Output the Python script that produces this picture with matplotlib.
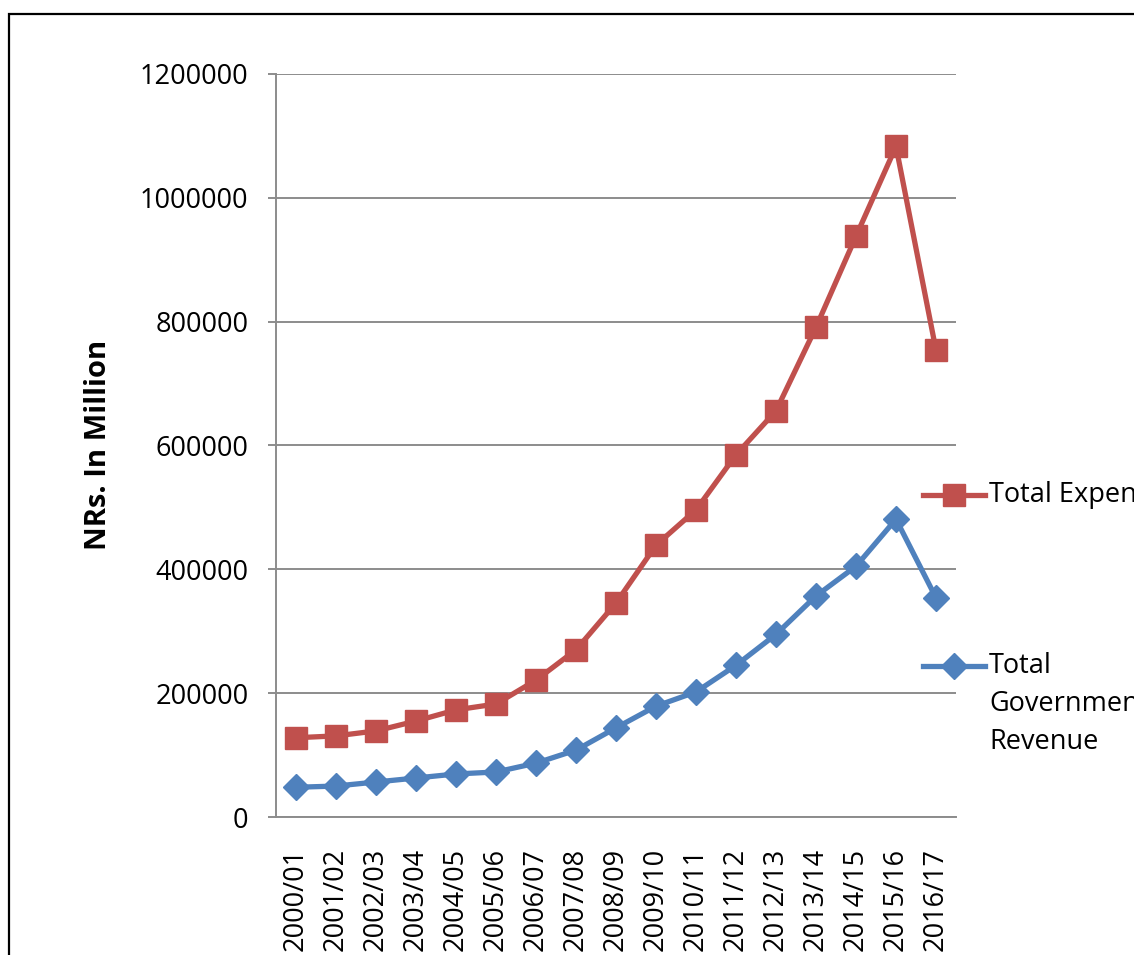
import matplotlib
matplotlib.use("Agg")
import matplotlib.pyplot as plt
from matplotlib.lines import Line2D
from matplotlib.patches import Rectangle

# Fiscal years and series (NRs. in million)
years = ["2000/01", "2001/02", "2002/03", "2003/04", "2004/05", "2005/06",
         "2006/07", "2007/08", "2008/09", "2009/10", "2010/11", "2011/12",
         "2012/13", "2013/14", "2014/15", "2015/16", "2016/17"]
expenditure = [128000, 131000, 139000, 155000, 173000, 182500, 221000,
               270000, 345600, 439000, 496000, 585000, 656000, 791000,
               938000, 1083000, 754000]
revenue = [48000, 50000, 56500, 63000, 69500, 72700, 87000, 108000,
           144000, 179000, 202000, 245000, 295000, 357000, 405000,
           481000, 354000]
y_ticks = [0, 200000, 400000, 600000, 800000, 1000000, 1200000]

RED = "#C0504D"
BLUE = "#4F81BD"
GRID = "#8C8C8C"
FS = 19.5

plt.rcParams["font.family"] = ["Open Sans", "DejaVu Sans"]

W, H = 1134, 955
fig = plt.figure(figsize=(W / 100, H / 100), dpi=100)
ax = fig.add_axes([276 / W, 1 - 817 / H, 680 / W, 743 / H])

x = list(range(len(years)))
ax.plot(x, expenditure, color=RED, lw=3.8, marker="s", ms=16,
        mec=RED, mfc=RED, solid_joinstyle="round", zorder=3)
ax.plot(x, revenue, color=BLUE, lw=3.8, marker="D", ms=13,
        mec=BLUE, mfc=BLUE, solid_joinstyle="round", zorder=3)

ax.set_xlim(-0.5, len(years) - 0.5)
ax.set_ylim(0, 1200000)
ax.set_yticks(y_ticks)
ax.set_yticklabels([str(v) for v in y_ticks], fontsize=FS)
ax.set_xticks(x)
ax.set_xticklabels(years, rotation=90, fontsize=FS, va="top")

ax.grid(axis="y", color=GRID, lw=1.4)
ax.set_axisbelow(True)
for side in ("top", "right"):
    ax.spines[side].set_visible(False)
for side in ("left", "bottom"):
    ax.spines[side].set_color(GRID)
    ax.spines[side].set_linewidth(1.4)
ax.tick_params(axis="y", length=5.8, width=1.4, color=GRID, pad=14)
ax.tick_params(axis="x", length=0, pad=22)


def fx(px):
    return px / W


def fy(py):
    return 1 - py / H


fig.text(fx(98), fy(445), "NRs. In Million", fontsize=21, fontweight="bold",
         rotation=90, ha="center", va="center")

# Legend drawn in figure pixel coordinates
for py, col, mk, ms in ((495, RED, "s", 16), (666, BLUE, "D", 13)):
    fig.add_artist(Line2D([fx(923), fx(985)], [fy(py), fy(py)], color=col,
                          lw=3.8, transform=fig.transFigure))
    fig.add_artist(Line2D([fx(954)], [fy(py)], color=col, marker=mk, ms=ms,
                          mfc=col, mec=col, transform=fig.transFigure))

fig.text(fx(989), fy(495), "Total Expenditure", fontsize=FS, va="center", ha="left")
for py, line in zip((666, 704, 742), ("Total", "Government", "Revenue")):
    fig.text(fx(989), fy(py), line, fontsize=FS, va="center", ha="left")

# Outer frame
fig.add_artist(Rectangle((fx(9), fy(H + 50)), fx(W + 50), fy(14) - fy(H + 50),
                         fill=False, ec="black", lw=1.6,
                         transform=fig.transFigure))

fig.savefig("out.png", dpi=100)
